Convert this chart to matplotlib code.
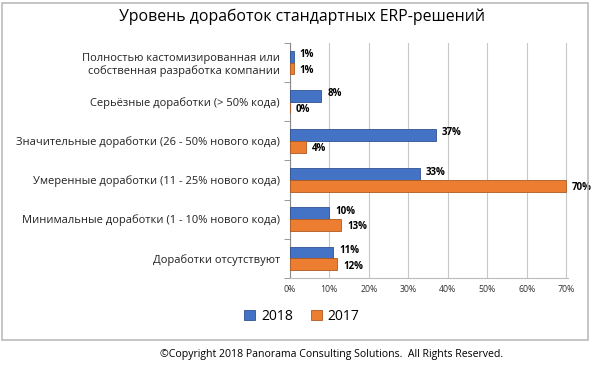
import numpy as np
import matplotlib.pyplot as plt
from matplotlib.patches import Rectangle

plt.rcParams["font.family"] = ["Open Sans", "DejaVu Sans"]

categories = [
    "Полностью кастомизированная или\nсобственная разработка компании",
    "Серьёзные доработки (> 50% кода)",
    "Значительные доработки (26 - 50% нового кода)",
    "Умеренные доработки (11 - 25% нового кода)",
    "Минимальные доработки (1 - 10% нового кода)",
    "Доработки отсутствуют",
]
vals_2018 = [1, 8, 37, 33, 10, 11]
vals_2017 = [1, 0, 4, 70, 13, 12]
xticks = [0, 10, 20, 30, 40, 50, 60, 70]

blue = "#4472C4"
orange = "#ED7D31"

fig = plt.figure(figsize=(6, 3.67), dpi=100)
ax = fig.add_axes([0.483, 0.243, 0.464, 0.64])

y = np.arange(len(categories))
h = 0.3
ax.barh(y - h / 2, vals_2018, height=h, color=blue, edgecolor="#2F528F", linewidth=0.6, label="2018", zorder=3)
ax.barh(y + h / 2, vals_2017, height=h, color=orange, edgecolor="#AE5A21", linewidth=0.6, label="2017", zorder=3)

for yi, v in zip(y, vals_2018):
    ax.text(v + 1.5, yi - h / 2 - 0.05, f"{v}%", va="center", ha="left", fontsize=7, fontweight="bold", clip_on=False)
for yi, v in zip(y, vals_2017):
    ax.text(v + 1.5, yi + h / 2 + 0.05, f"{v}%", va="center", ha="left", fontsize=7, fontweight="bold", clip_on=False)

ax.set_ylim(len(categories) - 0.5, -0.5)
ax.set_xlim(0, 70.5)
ax.set_yticks(y)
ax.set_yticklabels(categories, fontsize=8, color="#222222")
ax.set_yticks(np.arange(-0.5, len(categories), 1), minor=True)
ax.tick_params(axis="y", which="major", length=0, pad=7)
ax.tick_params(axis="y", which="minor", length=4, color="#888888")
ax.set_xticks(xticks)
ax.set_xticklabels([f"{t}%" for t in xticks], fontsize=6.3, color="#333333")
ax.tick_params(axis="x", length=0, pad=5)
ax.grid(axis="x", color="#C8C8C8", linewidth=0.8, zorder=0)
for s in ["top", "right"]:
    ax.spines[s].set_visible(False)
ax.spines["left"].set_color("#888888")
ax.spines["bottom"].set_color("#BBBBBB")

fig.text(0.503, 0.953, "Уровень доработок стандартных ERP-решений", ha="center", va="center", fontsize=11.4)
fig.legend(loc="center", bbox_to_anchor=(0.503, 0.138), ncol=2, frameon=False, fontsize=10,
           handlelength=0.8, handleheight=0.8, columnspacing=1.3, handletextpad=0.4)
fig.text(0.552, 0.035, "©Copyright 2018 Panorama Consulting Solutions.  All Rights Reserved.", ha="center", va="center", fontsize=7.6)

fig.patches.append(Rectangle((0.004, 0.073), 0.976, 0.92, transform=fig.transFigure,
                             fill=False, edgecolor="#BBBBBB", linewidth=1.2))

fig.savefig("out.png", dpi=100)
